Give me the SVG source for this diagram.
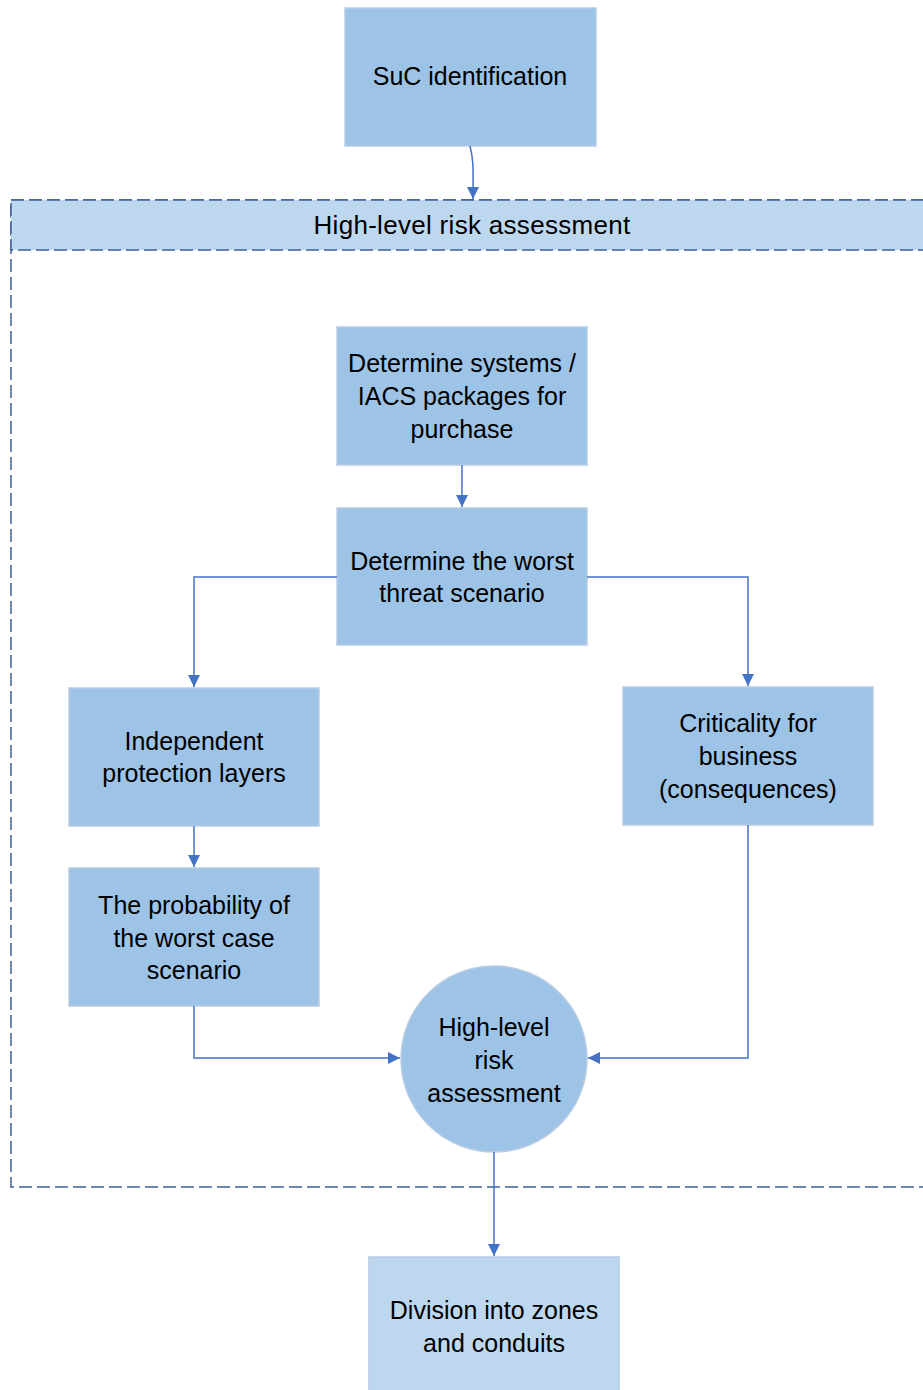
<svg xmlns="http://www.w3.org/2000/svg" width="923" height="1390" viewBox="0 0 923 1390">
<style>
.box{fill:#9dc3e6;stroke:#b8cce4;stroke-width:1.5}
.lbox{fill:#bdd7ee;stroke:#b8cce4;stroke-width:1.5}
.t{font-family:"Liberation Sans",Arial,sans-serif;font-size:25px;fill:#000;text-anchor:middle}
.h{font-size:26px;letter-spacing:0.3px}
.c{fill:none;stroke:#4472c4;stroke-width:1.5}
.dash{fill:none;stroke:#3f5f9a;stroke-width:1.5;stroke-dasharray:13 5}
</style>
<defs>
<marker id="ah" viewBox="0 0 12 12" refX="12" refY="6" markerWidth="12" markerHeight="12" markerUnits="userSpaceOnUse" orient="auto">
<path d="M0,0 L12,6 L0,12 Z" fill="#4472c4"/>
</marker>
</defs>
<g id="container">
<rect x="11" y="200" width="930" height="987" class="dash"/>
<rect x="11" y="200" width="930" height="50" class="dash" style="fill:#bdd7ee"/>
<text class="t h" x="472" y="234">High-level risk assessment</text>
</g>
<g id="suc">
<rect class="box" x="345" y="8" width="251" height="138"/>
<text class="t" x="470" y="85">SuC identification</text>
</g>
<g id="systems">
<rect class="box" x="337" y="327" width="250" height="138"/>
<text class="t" x="462" y="372">Determine systems /</text>
<text class="t" x="462" y="405">IACS packages for</text>
<text class="t" x="462" y="438">purchase</text>
</g>
<g id="worst">
<rect class="box" x="337" y="508" width="250" height="137"/>
<text class="t" x="462" y="570">Determine the worst</text>
<text class="t" x="462" y="602">threat scenario</text>
</g>
<g id="ipl">
<rect class="box" x="69" y="688" width="250" height="138"/>
<text class="t" x="194" y="750">Independent</text>
<text class="t" x="194" y="782">protection layers</text>
</g>
<g id="prob">
<rect class="box" x="69" y="868" width="250" height="138"/>
<text class="t" x="194" y="914">The probability of</text>
<text class="t" x="194" y="947">the worst case</text>
<text class="t" x="194" y="979">scenario</text>
</g>
<g id="crit">
<rect class="box" x="623" y="687" width="250" height="138"/>
<text class="t" x="748" y="732">Criticality for</text>
<text class="t" x="748" y="765">business</text>
<text class="t" x="748" y="798">(consequences)</text>
</g>
<g id="hlra">
<circle class="box" cx="494" cy="1059" r="93"/>
<text class="t" x="494" y="1036">High-level</text>
<text class="t" x="494" y="1069">risk</text>
<text class="t" x="494" y="1102">assessment</text>
</g>
<g id="zones">
<rect class="lbox" x="369" y="1257" width="250" height="140"/>
<text class="t" x="494" y="1319">Division into zones</text>
<text class="t" x="494" y="1352">and conduits</text>
</g>
<g id="connectors">
<path class="c" d="M470,146 C474,162 473,170 473,199" marker-end="url(#ah)"/>
<path class="c" d="M462,465 L462,507" marker-end="url(#ah)"/>
<path class="c" d="M337,577 L194,577 L194,687" marker-end="url(#ah)"/>
<path class="c" d="M587,577 L748,577 L748,686" marker-end="url(#ah)"/>
<path class="c" d="M194,826 L194,867" marker-end="url(#ah)"/>
<path class="c" d="M194,1006 L194,1058 L400,1058" marker-end="url(#ah)"/>
<path class="c" d="M748,825 L748,1058 L588,1058" marker-end="url(#ah)"/>
<path class="c" d="M494,1152 L494,1256" marker-end="url(#ah)"/>
</g>
</svg>
